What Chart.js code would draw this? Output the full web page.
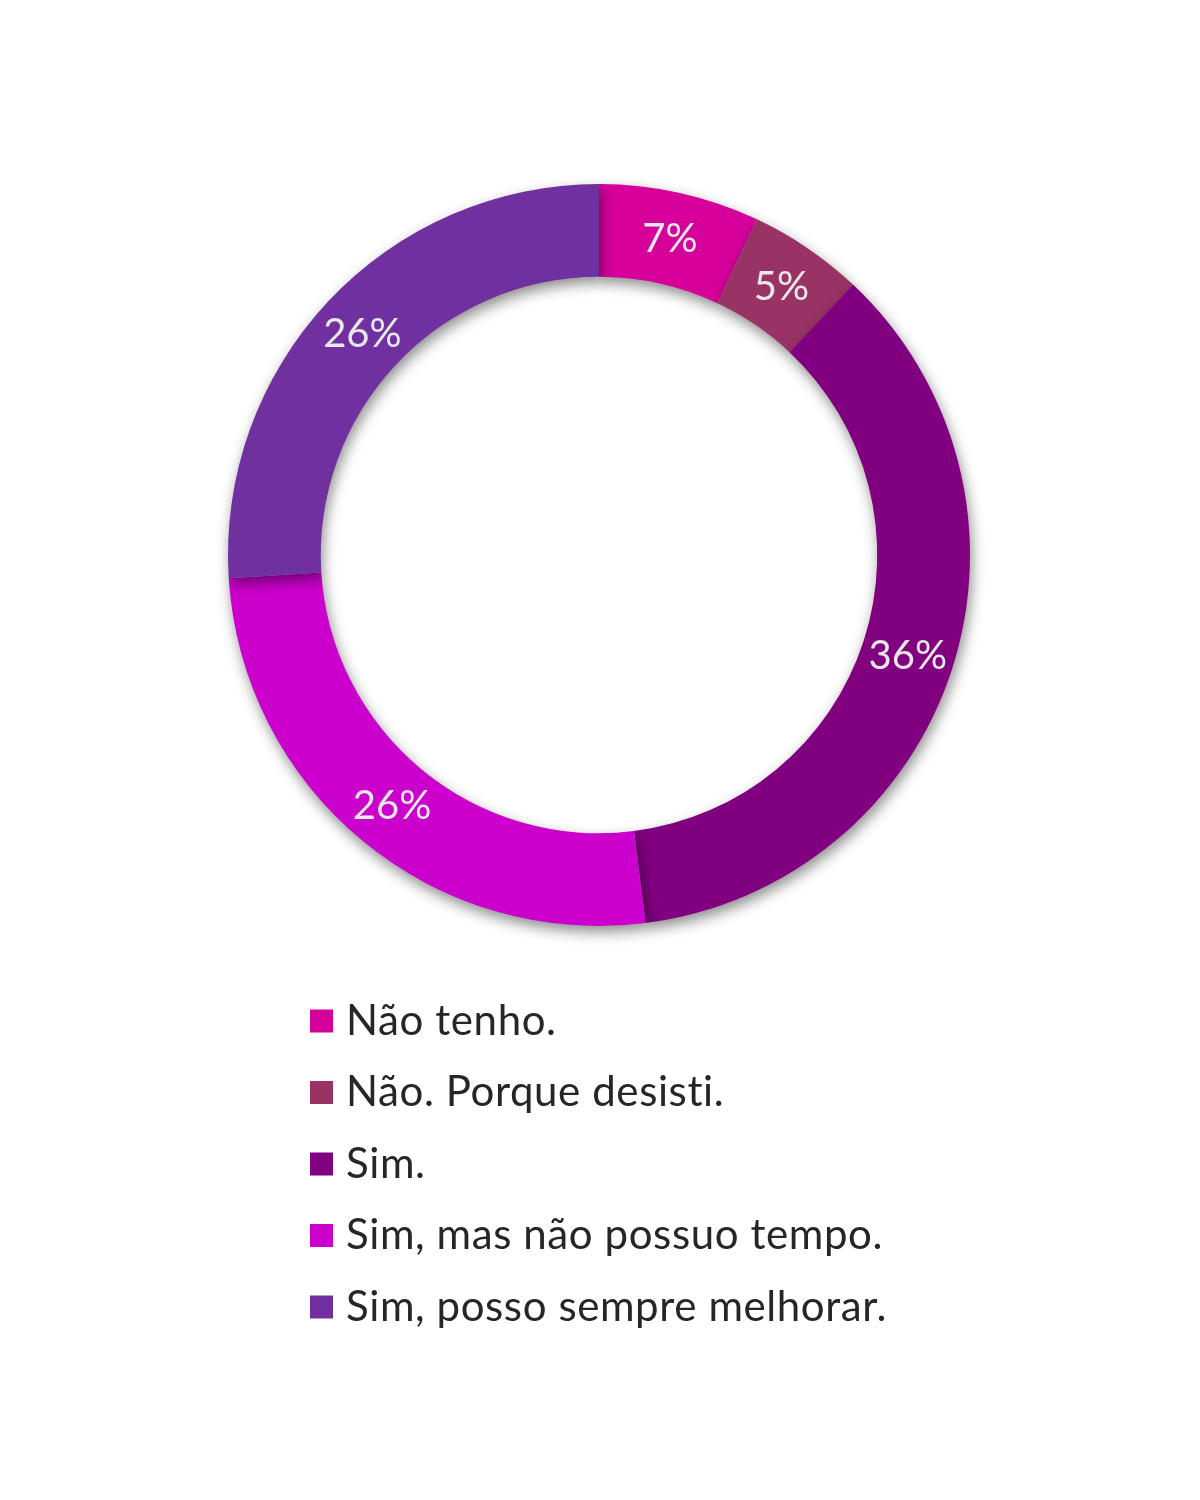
<!DOCTYPE html>
<html>
<head>
<meta charset="utf-8">
<script src="https://cdn.jsdelivr.net/npm/chart.js@4/dist/chart.umd.min.js"></script>
<style>
html,body{margin:0;padding:0;background:#fff;}
#wrap{width:1200px;height:1500px;}
</style>
</head>
<body>
<div id="wrap"><canvas id="c" width="1200" height="1500"></canvas></div>
<script>
const categories = ["Não tenho.", "Não. Porque desisti.", "Sim.", "Sim, mas não possuo tempo.", "Sim, posso sempre melhorar."];
const values = [7, 5, 36, 26, 26];
const valueLabels = ["7%", "5%", "36%", "26%", "26%"];
const colors = ["#D6009B", "#993366", "#800080", "#CC00CC", "#7030A0"];

const FONT = "Lato, 'Open Sans', sans-serif";

const shadowPlugin = {
  id: 'shadow',
  beforeDatasetsDraw(chart) {
    const ctx = chart.ctx;
    ctx.save();
    ctx.shadowColor = 'rgba(0,0,0,0.45)';
    ctx.shadowBlur = 14;
    ctx.shadowOffsetX = 2;
    ctx.shadowOffsetY = 6;
  },
  afterDatasetsDraw(chart) {
    chart.ctx.restore();
  }
};

const labelPlugin = {
  id: 'sliceLabels',
  afterDatasetsDraw(chart) {
    const ctx = chart.ctx;
    const meta = chart.getDatasetMeta(0);
    ctx.save();
    ctx.fillStyle = '#E8E8E8';
    ctx.font = "40px " + FONT;
    ctx.textAlign = 'center';
    ctx.textBaseline = 'middle';
    meta.data.forEach((arc, i) => {
      const p = arc.tooltipPosition();
      ctx.fillText(valueLabels[i], p.x, p.y + 1);
    });
    ctx.restore();
  }
};

const legendPlugin = {
  id: 'customLegend',
  afterDraw(chart) {
    const ctx = chart.ctx;
    ctx.save();
    ctx.font = "42px " + FONT;
    if ('letterSpacing' in ctx) ctx.letterSpacing = '0.6px';
    ctx.textBaseline = 'middle';
    ctx.textAlign = 'left';
    const x0 = 310, y0 = 1021, step = 71.5, box = 23;
    categories.forEach((c, i) => {
      const y = y0 + i * step;
      ctx.fillStyle = colors[i];
      ctx.fillRect(x0, y - box / 2, box, box);
      ctx.fillStyle = '#262626';
      ctx.fillText(c, x0 + 36, y);
    });
    ctx.restore();
  }
};

new Chart(document.getElementById('c'), {
  type: 'doughnut',
  data: {
    labels: categories,
    datasets: [{
      data: values,
      backgroundColor: colors,
      borderWidth: 0
    }]
  },
  options: {
    responsive: false,
    animation: false,
    cutout: '75%',
    layout: { padding: { top: 184, bottom: 574, left: 228, right: 230 } },
    plugins: {
      legend: { display: false },
      tooltip: { enabled: false }
    }
  },
  plugins: [shadowPlugin, labelPlugin, legendPlugin]
});
</script>
</body>
</html>
